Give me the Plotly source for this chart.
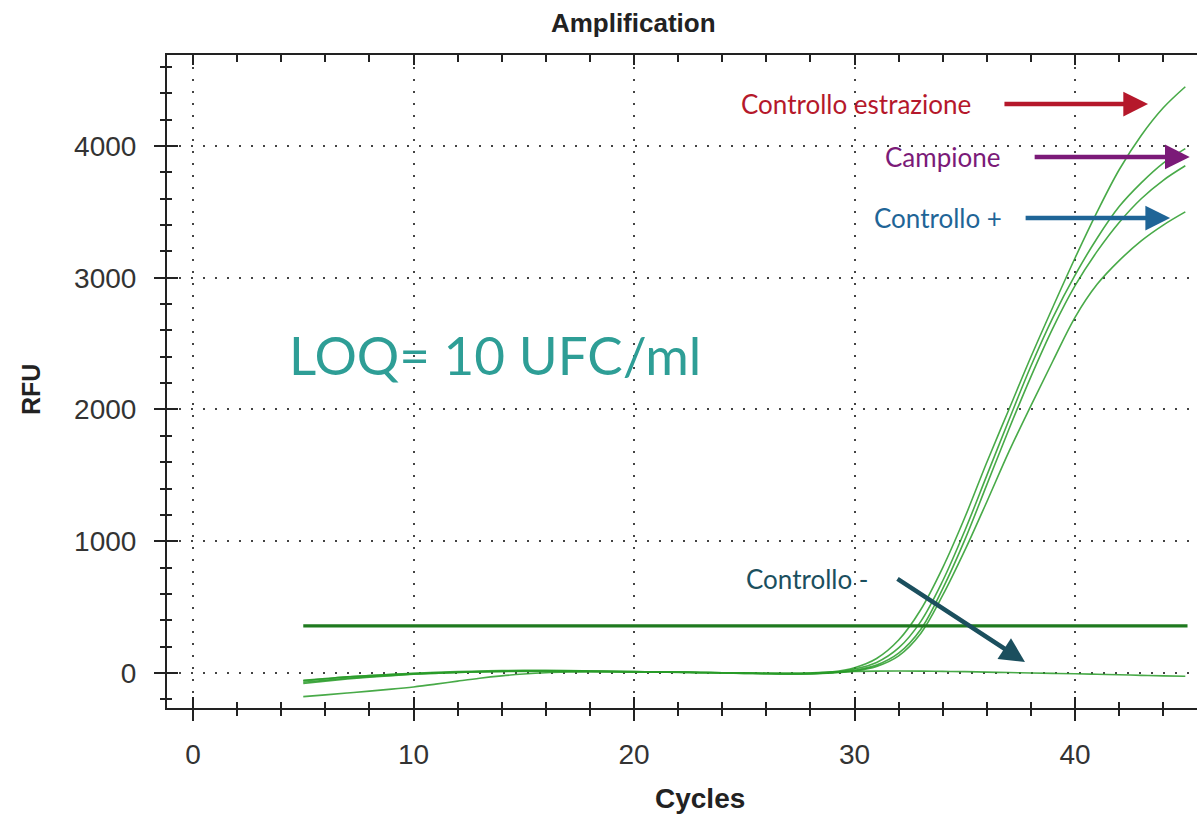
import plotly.graph_objects as go

cycles = list(range(5, 46))

# RFU values (cycles 5..45)
ctrl_estrazione = [-60, -45, -30, -20, -10, -2, 5, 10, 14, 18, 20, 20, 18, 15, 12, 10, 8, 6, 4, 2, 0, -2, -3, -1, 8,
                   40, 110, 250, 480, 800, 1180, 1600, 2000, 2400, 2780, 3150, 3500, 3820, 4080, 4290, 4450]
campione = [-70, -55, -40, -28, -18, -8, 0, 6, 10, 14, 16, 17, 16, 14, 12, 10, 8, 6, 4, 2, -1, -4, -6, -4, 4,
            30, 80, 190, 390, 700, 1080, 1500, 1920, 2330, 2700, 3020, 3300, 3540, 3720, 3870, 3980]
campione2 = [-80, -62, -46, -32, -20, -10, -3, 4, 9, 13, 15, 16, 15, 13, 11, 9, 7, 5, 3, 0, -3, -6, -8, -6, 2,
             20, 60, 150, 330, 640, 1010, 1430, 1850, 2250, 2620, 2940, 3200, 3420, 3600, 3740, 3850]
ctrl_pos = [-180, -166, -152, -138, -123, -106, -85, -62, -40, -22, -8, 2, 7, 9, 9, 8, 6, 4, 2, 0, -3, -6, -8, -7, 0,
            15, 50, 130, 300, 590, 930, 1300, 1680, 2030, 2370, 2700, 2950, 3130, 3280, 3400, 3500]
ctrl_neg = [-55, -42, -30, -20, -12, -5, 0, 4, 8, 10, 12, 12, 11, 10, 9, 8, 7, 6, 4, 2, 0, -2, -3, 0, 8,
            12, 14, 15, 14, 12, 10, 6, 3, 0, -3, -6, -10, -14, -18, -22, -25]

threshold_x = [5, 45.1]
threshold_y = [357, 357]

x_ticks = [0, 10, 20, 30, 40]
y_ticks = [0, 1000, 2000, 3000, 4000]

fig = go.Figure()

curve_color = "rgba(40,155,40,0.85)"
for ys in [ctrl_neg, ctrl_pos, campione2, campione, ctrl_estrazione]:
    fig.add_trace(go.Scatter(x=cycles, y=ys, mode="lines",
                             line=dict(color=curve_color, width=1.6, shape="spline"),
                             showlegend=False, hoverinfo="skip"))

fig.add_trace(go.Scatter(x=threshold_x, y=threshold_y, mode="lines",
                         line=dict(color="#1f7a1f", width=3.2), showlegend=False, hoverinfo="skip"))

x_range = [-1.18, 45.53]
y_range = [-266, 4691]
grid = dict(showgrid=True, gridcolor="#444", gridwidth=2, griddash="2px,10px")
axfont = "Liberation Sans, Arial, sans-serif"
tickfont = dict(family=axfont, size=28, color="#333")

fig.update_layout(
    width=1197, height=816,
    margin=dict(l=167, r=0, t=55, b=108),
    paper_bgcolor="white", plot_bgcolor="white",
    title=dict(text="<b>Amplification</b>", x=0.529, xanchor="center", y=0.972, yanchor="middle",
               font=dict(family=axfont, size=26, color="#222")),
    xaxis=dict(range=x_range, tickvals=x_ticks, ticks="outside", ticklen=11, tickwidth=2, tickcolor="#222",
               minor=dict(dtick=2, ticks="outside", ticklen=6, tickwidth=2, tickcolor="#222", showgrid=False),
               showline=True, linecolor="#222", linewidth=2, mirror=True, zeroline=False,
               tickfont=tickfont, ticklabelstandoff=9, **grid),
    yaxis=dict(range=y_range, tickvals=y_ticks, ticks="outside", ticklen=11, tickwidth=2, tickcolor="#222",
               minor=dict(dtick=200, ticks="outside", ticklen=5, tickwidth=2, tickcolor="#222", showgrid=False),
               showline=True, linecolor="#222", linewidth=2, zeroline=False,
               tickfont=tickfont, ticklabelstandoff=12, **grid),
    xaxis2=dict(overlaying="x", anchor="y", side="bottom", range=x_range, tickvals=x_ticks,
                ticks="inside", ticklen=11, tickwidth=2, tickcolor="#222", showticklabels=False,
                minor=dict(dtick=2, ticks="inside", ticklen=6, tickwidth=2, tickcolor="#222"),
                showgrid=False, zeroline=False, showline=False),
    xaxis3=dict(overlaying="x", anchor="y", side="top", range=x_range, tickvals=x_ticks,
                ticks="inside", ticklen=10, tickwidth=2, tickcolor="#222", showticklabels=False,
                minor=dict(dtick=2, ticks="inside", ticklen=7, tickwidth=2, tickcolor="#222"),
                showgrid=False, zeroline=False, showline=False),
    yaxis2=dict(overlaying="y", anchor="x", side="left", range=y_range, tickvals=y_ticks,
                ticks="inside", ticklen=11, tickwidth=2, tickcolor="#222", showticklabels=False,
                minor=dict(dtick=200, ticks="inside", ticklen=5, tickwidth=2, tickcolor="#222"),
                showgrid=False, zeroline=False, showline=False),
)

# dummy traces to activate the overlay axes
fig.add_trace(go.Scatter(x=[None], y=[None], xaxis="x2", yaxis="y", showlegend=False))
fig.add_trace(go.Scatter(x=[None], y=[None], xaxis="x3", yaxis="y", showlegend=False))
fig.add_trace(go.Scatter(x=[None], y=[None], xaxis="x", yaxis="y2", showlegend=False))

# axis titles
fig.add_annotation(x=0.5175, y=-0.138, xref="paper", yref="paper", text="<b>Cycles</b>", showarrow=False,
                   font=dict(family=axfont, size=28, color="#222"), xanchor="center", yanchor="middle")
fig.add_annotation(x=-0.132, y=0.487, xref="paper", yref="paper", text="<b>RFU</b>", showarrow=False,
                   textangle=-90, font=dict(family=axfont, size=25, color="#222"),
                   xanchor="center", yanchor="middle")

afont = "Lato, Open Sans, sans-serif"
labels = [
    ("Controllo estrazione", 30.07, 4319, "#b5182b", 36.73, 43.31, 4319, 4319),
    ("Campione", 33.97, 3917, "#7b1a78", 38.1, 45.2, 3917, 3917),
    ("Controllo +", 33.8, 3453, "#1f6597", 37.69, 44.31, 3453, 3453),
    ("Controllo -", 27.85, 713, "#1b4f5e", 31.88, 37.73, 721, 83),
]
for text, tx, ty, col, ax0, ax1, ay0, ay1 in labels:
    fig.add_annotation(x=tx, y=ty, xref="x", yref="y", text=text, showarrow=False,
                       font=dict(family=afont, size=26, color=col))
    fig.add_annotation(x=ax1, y=ay1, ax=ax0, ay=ay0, xref="x", yref="y", axref="x", ayref="y",
                       text="", showarrow=True, arrowhead=2, arrowsize=1.1, arrowwidth=4.5, arrowcolor=col)

fig.add_annotation(x=13.7, y=2414, xref="x", yref="y", text="LOQ= 10 UFC/ml", showarrow=False,
                   font=dict(family=afont, size=53, color="#2e9e96"))

fig.write_html("out.html")
